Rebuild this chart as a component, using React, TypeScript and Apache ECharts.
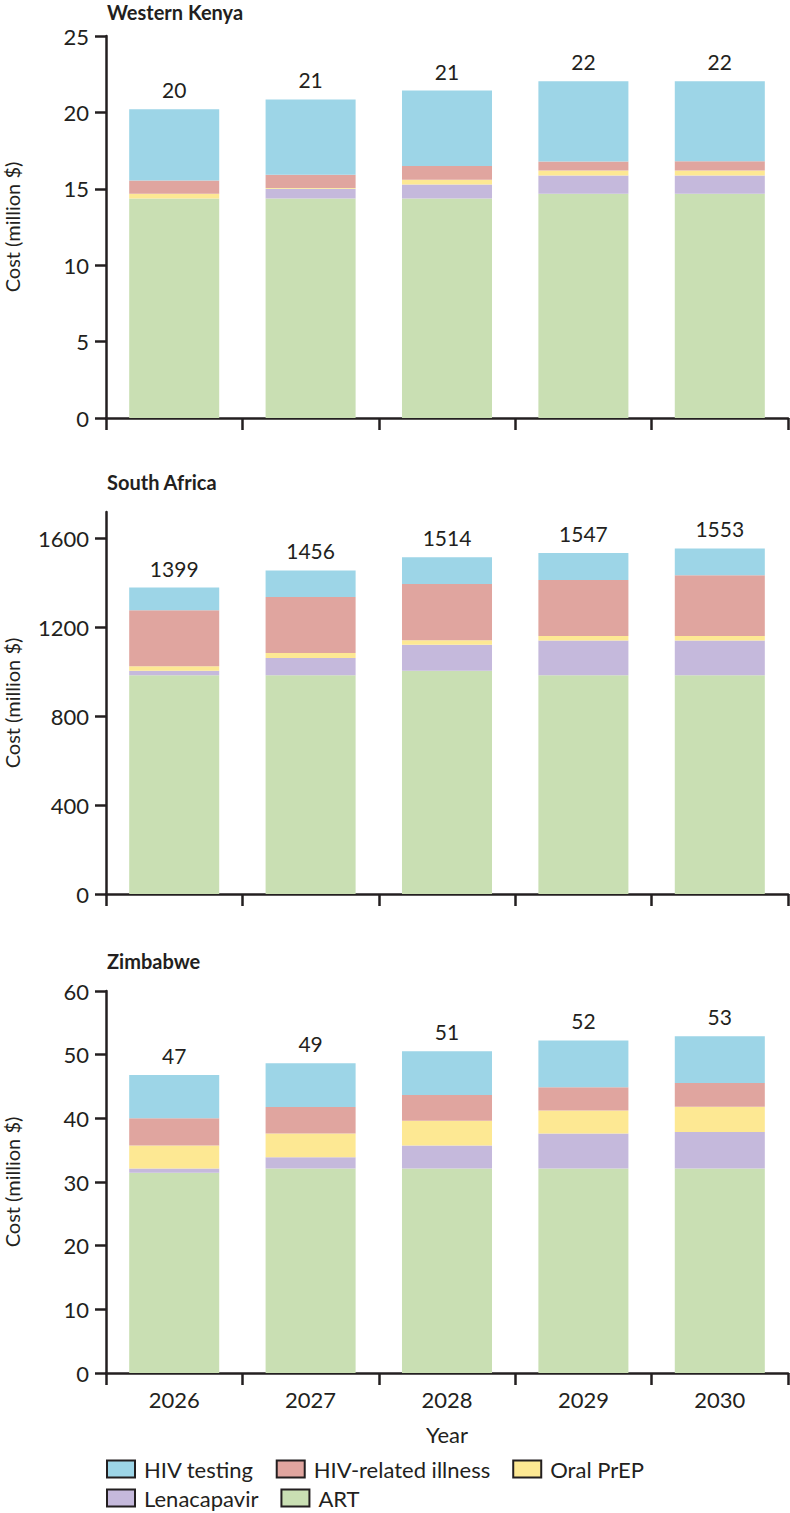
import React, { useEffect, useRef } from 'react';
import * as echarts from 'echarts';

const years = ['2026', '2027', '2028', '2029', '2030'];
const panelTitles = ['Western Kenya', 'South Africa', 'Zimbabwe'];
const yAxisTitle = 'Cost (million $)';

// Western Kenya (million $)
const kenyaART = [14.36, 14.36, 14.36, 14.67, 14.67];
const kenyaLenacapavir = [0, 0.64, 0.92, 1.2, 1.2];
const kenyaOralPrEP = [0.31, 0.05, 0.31, 0.33, 0.33];
const kenyaIllness = [0.87, 0.87, 0.91, 0.59, 0.61];
const kenyaTesting = [4.67, 4.93, 4.93, 5.25, 5.23];
const kenyaTotals = [20, 21, 21, 22, 22];

// South Africa (million $)
const saART = [985, 985, 1005, 985, 985];
const saLenacapavir = [20, 78, 117, 156, 156];
const saOralPrEP = [21, 22, 21, 21, 21];
const saIllness = [252, 252, 253, 252, 273];
const saTesting = [102, 120, 120, 121, 121];
const saTotals = [1399, 1456, 1514, 1547, 1553];

// Zimbabwe (million $)
const zimART = [31.47, 32.13, 32.13, 32.13, 32.13];
const zimLenacapavir = [0.66, 1.77, 3.6, 5.49, 5.71];
const zimOralPrEP = [3.6, 3.72, 3.88, 3.6, 3.99];
const zimIllness = [4.27, 4.15, 4.05, 3.66, 3.71];
const zimTesting = [6.8, 6.87, 6.87, 7.36, 7.37];
const zimTotals = [47, 49, 51, 52, 53];

const kenyaTicks = [0, 5, 10, 15, 20, 25];
const saTicks = [0, 400, 800, 1200, 1600];
const zimTicks = [0, 10, 20, 30, 40, 50, 60];

const legendRow1 = ['HIV testing', 'HIV-related illness', 'Oral PrEP'];
const legendRow2 = ['Lenacapavir', 'ART'];

const COLORS: Record<string, string> = {
  ART: '#c9dfb3',
  Lenacapavir: '#c5b9dc',
  'Oral PrEP': '#fde893',
  'HIV-related illness': '#e0a59f',
  'HIV testing': '#9dd5e7',
};

const INK = '#231f20';
const FONT = 'Lato, sans-serif';
const GRID_H = 382;

const panels = [
  {
    data: { ART: kenyaART, Lenacapavir: kenyaLenacapavir, 'Oral PrEP': kenyaOralPrEP, 'HIV-related illness': kenyaIllness, 'HIV testing': kenyaTesting },
    totals: kenyaTotals, ticks: kenyaTicks, max: 25, top: 36, titleTop: 2,
  },
  {
    data: { ART: saART, Lenacapavir: saLenacapavir, 'Oral PrEP': saOralPrEP, 'HIV-related illness': saIllness, 'HIV testing': saTesting },
    totals: saTotals, ticks: saTicks, max: 1720, top: 512, titleTop: 472,
  },
  {
    data: { ART: zimART, Lenacapavir: zimLenacapavir, 'Oral PrEP': zimOralPrEP, 'HIV-related illness': zimIllness, 'HIV testing': zimTesting },
    totals: zimTotals, ticks: zimTicks, max: 60, top: 991, titleTop: 951,
  },
];

const stackOrder = ['ART', 'Lenacapavir', 'Oral PrEP', 'HIV-related illness', 'HIV testing'];

export default function App() {
  const ref = useRef<HTMLDivElement>(null);

  useEffect(() => {
    document.body.style.margin = '0';
    if (!ref.current) return;
    const chart = echarts.init(ref.current, undefined, { renderer: 'svg' });

    const grids: any[] = [];
    const xAxes: any[] = [];
    const yAxes: any[] = [];
    const series: any[] = [];
    const titles: any[] = [];
    const graphics: any[] = [];

    panels.forEach((p, i) => {
      const isLast = i === panels.length - 1;
      grids.push({ left: 106, right: 2, top: p.top, height: GRID_H, containLabel: false });
      titles.push({
        text: panelTitles[i],
        left: 107,
        top: p.titleTop,
        padding: 0,
        textStyle: { fontFamily: FONT, fontSize: 20, fontWeight: 'bold', color: INK },
      });
      graphics.push({
        type: 'text',
        x: 12,
        y: p.top + GRID_H / 2,
        rotation: Math.PI / 2,
        style: {
          text: yAxisTitle,
          font: '20px Lato, sans-serif',
          fill: INK,
          align: 'center',
          verticalAlign: 'middle',
        },
      });
      xAxes.push({
        type: 'category',
        gridIndex: i,
        data: years,
        boundaryGap: true,
        axisLine: { show: true, lineStyle: { color: INK, width: 2.5 } },
        axisTick: { show: true, length: 12, lineStyle: { color: INK, width: 2.5 } },
        axisLabel: {
          show: isLast,
          margin: 15,
          fontFamily: FONT,
          fontSize: 22,
          color: INK,
        },
        name: isLast ? 'Year' : '',
        nameLocation: 'middle',
        nameGap: 50,
        nameTextStyle: { fontFamily: FONT, fontSize: 22, color: INK },
        splitLine: { show: false },
      });
      yAxes.push({
        type: 'value',
        gridIndex: i,
        min: 0,
        max: p.max,
        splitNumber: p.ticks.length - 1,
        axisLine: { show: true, lineStyle: { color: INK, width: 2.5 } },
        axisTick: { show: true, length: 11, lineStyle: { color: INK, width: 2.5 }, customValues: p.ticks },
        axisLabel: {
          margin: 17,
          fontFamily: FONT,
          fontSize: 22,
          color: INK,
          customValues: p.ticks,
          formatter: (v: number) => String(v),
        },
        splitLine: { show: false },
      });
      stackOrder.forEach((name) => {
        const s: any = {
          name,
          type: 'bar',
          xAxisIndex: i,
          yAxisIndex: i,
          stack: 'panel' + i,
          barWidth: '66%',
          data: (p.data as any)[name],
          itemStyle: { color: COLORS[name] },
          emphasis: { disabled: true },
        };
        if (name === 'HIV testing') {
          s.label = {
            show: true,
            position: 'top',
            distance: 9,
            fontFamily: FONT,
            fontSize: 21,
            color: INK,
            formatter: (pp: any) => String(p.totals[pp.dataIndex]),
          };
        }
        series.push(s);
      });
    });

    const legendCommon = {
      left: 106,
      orient: 'horizontal',
      padding: 0,
      itemWidth: 28,
      itemHeight: 17,
      itemGap: 22,
      icon: 'rect',
      selectedMode: false,
      itemStyle: { borderColor: INK, borderWidth: 2 },
      textStyle: { fontFamily: FONT, fontSize: 22, color: INK, padding: [0, 0, 0, 4] },
    };

    chart.setOption({
      animation: false,
      backgroundColor: '#ffffff',
      title: titles,
      grid: grids,
      xAxis: xAxes,
      yAxis: yAxes,
      legend: [
        { ...legendCommon, top: 1458, data: legendRow1 },
        { ...legendCommon, top: 1487, data: legendRow2 },
      ],
      graphic: graphics,
      series,
    });

    return () => {
      chart.dispose();
    };
  }, []);

  return <div ref={ref} style={{ width: 790, height: 1513 }} />;
}
